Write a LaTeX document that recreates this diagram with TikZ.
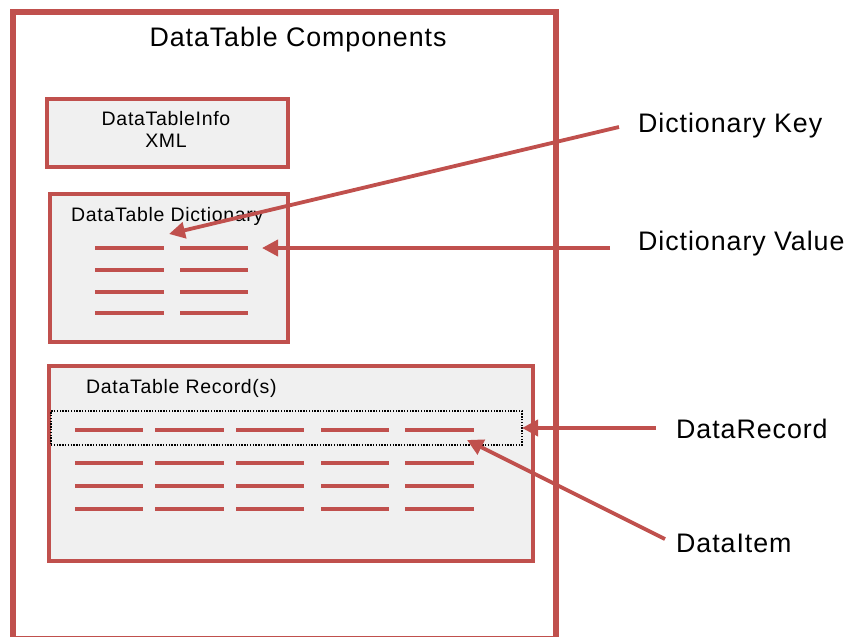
\documentclass[tikz,border=0pt]{standalone}
\usepackage{fontspec}
\setmainfont{Liberation Sans}[LetterSpace=3.5]
\usetikzlibrary{arrows.meta}
\definecolor{dtred}{HTML}{C0504D}
\definecolor{dtfill}{HTML}{F0F0F0}
\tikzset{
  frame/.style={draw=dtred,line width=5.5pt,inner sep=0,outer sep=0},
  box/.style={draw=dtred,fill=dtfill,line width=4pt,inner sep=0,outer sep=0},
  item/.style={draw=dtred,line width=3.5pt},
  big/.style={font=\fontsize{26.8}{30}\selectfont,inner sep=0,text=black},
  small/.style={font=\fontsize{19.5}{22}\selectfont,inner sep=0,text=black},
  pointer/.style={draw=dtred,line width=3.8pt,-{Triangle[length=16pt,width=16pt]}},
  recsel/.style={draw=black,line width=1.3pt,dash pattern=on 1.4pt off 1.4pt,inner sep=0,outer sep=0}
}
\begin{document}
\begin{tikzpicture}[x=1pt,y=-1pt]
\useasboundingbox (0,0) rectangle (849,637);
% outer frame
\node[frame,minimum width=543pt,minimum height=626.5pt] (outer) at (284.5,325.25) {};
\node[big,anchor=base] (title) at (298,46) {DataTable Components};
% info box
\node[box,minimum width=241.5pt,minimum height=67.5pt] (info) at (167.25,132.75) {};
\node[small,anchor=base] (infotxt) at (166,125) {DataTableInfo};
\node[small,anchor=base] (xmltxt) at (166,147) {XML};
% dictionary box
\node[box,minimum width=238pt,minimum height=147.7pt] (dict) at (169,267.85) {};
\node[small,anchor=base west] (dicttxt) at (71,221) {DataTable Dictionary};
\foreach \y in {248,270,292,313}{
  \draw[item] (95,\y) -- (164,\y);
  \draw[item] (180,\y) -- (248,\y);
}
% records box
\node[box,minimum width=484pt,minimum height=195pt] (recs) at (291,463.5) {};
\node[small,anchor=base west] (recstxt) at (86,393) {DataTable Record(s)};
\node[recsel,minimum width=471pt,minimum height=34pt] (sel) at (286.5,428) {};
\foreach \y in {430,463,486,509}{
  \draw[item] (75,\y) -- (143,\y);
  \draw[item] (155,\y) -- (224,\y);
  \draw[item] (236,\y) -- (304,\y);
  \draw[item] (321,\y) -- (389,\y);
  \draw[item] (405,\y) -- (474,\y);
}
% labels
\node[big,anchor=base west] (lkey) at (638,132) {Dictionary Key};
\node[big,anchor=base west] (lval) at (638,250) {Dictionary Value};
\node[big,anchor=base west] (lrec) at (676,438) {DataRecord};
\node[big,anchor=base west] (litem) at (676,552) {DataItem};
% arrow ends
\coordinate (keyS) at (619,127);
\coordinate (keyT) at (169,234);
\coordinate (valS) at (610,248);
\coordinate (valT) at (262,248);
\coordinate (recS) at (656,428);
\coordinate (itemS) at (665,539);
\coordinate (itemT) at (467,440);
\draw[pointer] (keyS) -- (keyT);
\draw[pointer] (valS) -- (valT);
\draw[pointer] (recS) -- (sel.east);
\draw[pointer] (itemS) -- (itemT);
\end{tikzpicture}
\end{document}
